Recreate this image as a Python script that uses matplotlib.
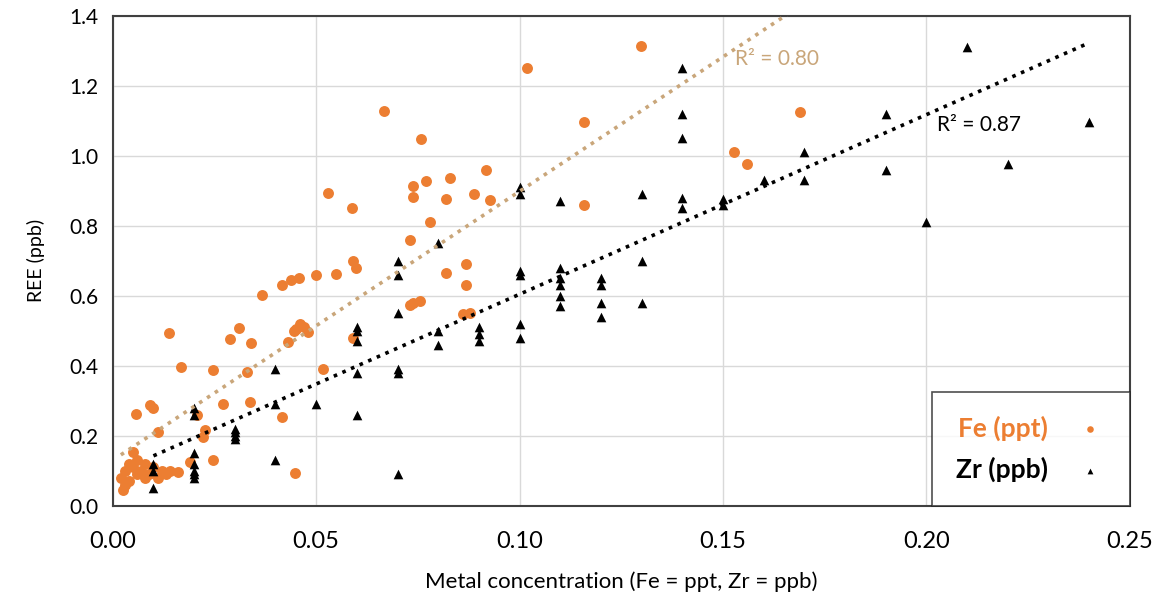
import matplotlib
matplotlib.use("Agg")
import matplotlib.pyplot as plt
import numpy as np
from matplotlib.ticker import FormatStrFormatter

# Fe (ppt) points
fe_x = [0.0528, 0.0589, 0.0590, 0.0597, 0.0548, 0.0499, 0.0458, 0.0437, 0.0417, 0.0368,
        0.0138, 0.0311, 0.0288, 0.0339, 0.0430, 0.0460, 0.0470, 0.0450, 0.0480, 0.0445,
        0.0167, 0.0247, 0.0329, 0.0057, 0.0092, 0.0100, 0.0270, 0.0337, 0.0417, 0.0206,
        0.0110, 0.0227, 0.0222, 0.0049, 0.0190, 0.0247, 0.0448, 0.0026, 0.0667, 0.0758,
        0.0918, 0.0828, 0.0769, 0.0738, 0.0738, 0.0820, 0.0888, 0.0928, 0.0779, 0.0730,
        0.0869, 0.0820, 0.0869, 0.0738, 0.0755, 0.0730, 0.0860, 0.0877, 0.0590, 0.0517,
        0.1019, 0.1299, 0.1158, 0.1528, 0.1558, 0.1158, 0.1690,
        0.002, 0.003, 0.004, 0.005, 0.006, 0.007, 0.008, 0.009, 0.010, 0.011,
        0.012, 0.013, 0.014, 0.016, 0.004, 0.003, 0.006, 0.008]
fe_y = [0.893, 0.851, 0.699, 0.678, 0.663, 0.660, 0.649, 0.644, 0.629, 0.601,
        0.492, 0.507, 0.476, 0.465, 0.468, 0.520, 0.510, 0.505, 0.495, 0.500,
        0.396, 0.386, 0.381, 0.262, 0.288, 0.278, 0.291, 0.295, 0.254, 0.259,
        0.211, 0.216, 0.197, 0.154, 0.125, 0.130, 0.094, 0.044, 1.128, 1.047,
        0.958, 0.936, 0.928, 0.912, 0.883, 0.875, 0.890, 0.873, 0.809, 0.758,
        0.689, 0.665, 0.629, 0.579, 0.584, 0.572, 0.546, 0.551, 0.479, 0.390,
        1.251, 1.313, 1.095, 1.011, 0.976, 0.859, 1.124,
        0.08, 0.10, 0.12, 0.11, 0.13, 0.10, 0.12, 0.09, 0.11, 0.08,
        0.10, 0.09, 0.10, 0.095, 0.07, 0.06, 0.09, 0.08]

# Zr (ppb) points
zr_x = [0.01, 0.01, 0.01,
        0.02, 0.02, 0.02, 0.02, 0.02, 0.02, 0.02,
        0.03, 0.03, 0.03, 0.03,
        0.04, 0.04, 0.04,
        0.05,
        0.06, 0.06, 0.06, 0.06, 0.06,
        0.07, 0.07, 0.07, 0.07, 0.07, 0.07,
        0.08, 0.08, 0.08,
        0.09, 0.09, 0.09,
        0.10, 0.10, 0.10, 0.10, 0.10, 0.10,
        0.11, 0.11, 0.11, 0.11, 0.11, 0.11,
        0.12, 0.12, 0.12, 0.12,
        0.13, 0.13, 0.13,
        0.14, 0.14, 0.14, 0.14, 0.14,
        0.15, 0.15,
        0.16,
        0.17, 0.17,
        0.19, 0.19,
        0.20, 0.21, 0.22, 0.24]
zr_y = [0.12, 0.10, 0.05,
        0.28, 0.26, 0.15, 0.12, 0.10, 0.09, 0.08,
        0.22, 0.21, 0.20, 0.19,
        0.39, 0.29, 0.13,
        0.29,
        0.51, 0.50, 0.47, 0.38, 0.26,
        0.70, 0.66, 0.55, 0.39, 0.38, 0.09,
        0.75, 0.50, 0.46,
        0.51, 0.49, 0.47,
        0.91, 0.89, 0.67, 0.66, 0.52, 0.48,
        0.87, 0.68, 0.65, 0.63, 0.60, 0.57,
        0.65, 0.63, 0.58, 0.54,
        0.89, 0.70, 0.58,
        1.25, 1.12, 1.05, 0.88, 0.85,
        0.875, 0.86,
        0.93,
        1.01, 0.93,
        1.12, 0.96,
        0.81, 1.31, 0.975, 1.095]

fe_color = '#EC7E32'
fe_trend_color = '#C9A67A'
body = ['Lato', 'DejaVu Sans']

fig = plt.figure(figsize=(11.6, 5.96), dpi=100)
ax = fig.add_axes([0.0972, 0.1518, 0.8768, 0.8219])

ax.scatter(fe_x, fe_y, s=62, color=fe_color, label='Fe (ppt)', zorder=3, linewidths=0)
ax.scatter(zr_x, zr_y, s=48, marker='^', color='black', label='Zr (ppb)', zorder=4, linewidths=0)

# linear trendlines, like the spreadsheet
for xs, ys, col in [(fe_x, fe_y, fe_trend_color), (zr_x, zr_y, 'black')]:
    xs = np.array(xs)
    k, b = np.polyfit(xs, ys, 1)
    xx = np.array([xs.min(), xs.max()])
    ax.plot(xx, k * xx + b, linestyle=(0, (1, 1.6)), color=col, linewidth=2.6, zorder=5)

ax.text(0.1530, 1.277, 'R² = 0.80', color=fe_trend_color, fontsize=15, va='center', family=body)
ax.text(0.2025, 1.087, 'R² = 0.87', color='black', fontsize=15, va='center', family=body)

ax.set_xlim(0, 0.25)
ax.set_ylim(0, 1.4)
ax.set_xticks(np.arange(0, 0.2501, 0.05))
ax.set_yticks(np.arange(0, 1.401, 0.2))
ax.xaxis.set_major_formatter(FormatStrFormatter('%.2f'))
ax.yaxis.set_major_formatter(FormatStrFormatter('%.1f'))
ax.tick_params(axis='y', length=0, labelsize=15, pad=10)
ax.tick_params(axis='x', length=0, labelsize=17, pad=18)
for lab in ax.get_xticklabels() + ax.get_yticklabels():
    lab.set_family(body)
ax.grid(color='#d9d9d9', linewidth=1)
ax.set_axisbelow(True)
for sp in ax.spines.values():
    sp.set_color('#404040')
    sp.set_linewidth(1.5)

ax.set_xlabel('Metal concentration (Fe = ppt, Zr = ppb)', fontsize=16, family=body, labelpad=14)
ax.set_ylabel('REE (ppb)', fontsize=14, family=body, labelpad=18)

leg = ax.legend(loc='lower right', markerfirst=False, frameon=True,
                fancybox=False, borderaxespad=0, handletextpad=1.0, labelspacing=0.6,
                borderpad=0.9, markerscale=0.6, handlelength=1.2,
                prop={'family': 'Lato', 'weight': 'bold', 'size': 19})
leg.get_frame().set_edgecolor('#222222')
leg.get_frame().set_linewidth(1.2)
for t, c in zip(leg.get_texts(), [fe_color, 'black']):
    t.set_color(c)

fig.savefig('out.png', dpi=100)
